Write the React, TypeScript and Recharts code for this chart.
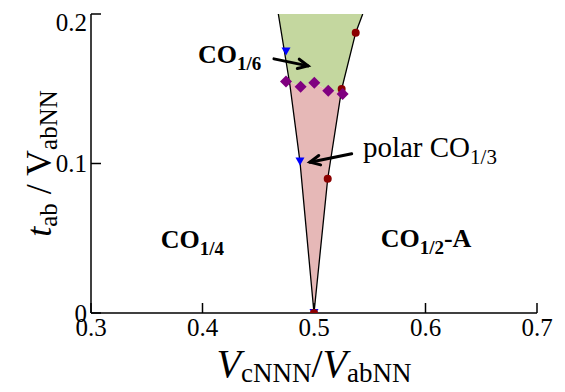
import {
  ComposedChart,
  XAxis,
  YAxis,
  Area,
  Line,
  Scatter,
  ReferenceDot,
  ReferenceLine,
  Label,
} from "recharts";

// phase boundaries (V_cNNN/V_abNN, t_ab/V_abNN)
const leftBoundary = [
  { x: 0.468, y: 0.2 },
  { x: 0.4785, y: 0.152 },
  { x: 0.4874, y: 0.1013 },
  { x: 0.5, y: 0 },
];
const rightBoundary = [
  { x: 0.5, y: 0 },
  { x: 0.5123, y: 0.0898 },
  { x: 0.5248, y: 0.1498 },
  { x: 0.5374, y: 0.1875 },
  { x: 0.5437, y: 0.2 },
];

// filled regions as [low, high] ranges
const co16Region = [
  { x: 0.468, r: [0.2, 0.2] },
  { x: 0.4778, r: [0.1549, 0.2] },
  { x: 0.488, r: [0.1513, 0.2] },
  { x: 0.5003, r: [0.154, 0.2] },
  { x: 0.5128, r: [0.1487, 0.2] },
  { x: 0.5245, r: [0.1475, 0.2] },
  { x: 0.5374, r: [0.1875, 0.2] },
  { x: 0.5437, r: [0.2, 0.2] },
];
const polarRegion = [
  { x: 0.4778, r: [0.1549, 0.1549] },
  { x: 0.4874, r: [0.1013, 0.1517] },
  { x: 0.5, r: [0, 0.154] },
  { x: 0.5123, r: [0.0898, 0.149] },
  { x: 0.5245, r: [0.1475, 0.1475] },
];

// markers
const blueTriangles = [
  { x: 0.4749, y: 0.1749 },
  { x: 0.4874, y: 0.1013 },
  { x: 0.5, y: 0 },
];
const redCircles = [
  { x: 0.5374, y: 0.1875 },
  { x: 0.5248, y: 0.1498 },
  { x: 0.5123, y: 0.0898 },
  { x: 0.5, y: 0 },
];
const purpleDiamonds = [
  { x: 0.4749, y: 0.1549 },
  { x: 0.488, y: 0.1513 },
  { x: 0.5003, y: 0.154 },
  { x: 0.5128, y: 0.1487 },
  { x: 0.5257, y: 0.1465 },
];

const xMajor = [0.3, 0.4, 0.5, 0.6, 0.7];
const xMinor = [0.35, 0.45, 0.55, 0.65];
const yMajor = [0, 0.1, 0.2];
const yMinor = [0.05, 0.15];

const FONT = "Liberation Serif";

const TriangleDown = (p: any) => (
  <polygon
    points={`${p.cx - 4.5},${p.cy - 4} ${p.cx + 4.5},${p.cy - 4} ${p.cx},${p.cy + 4}`}
    fill="#0000ff"
  />
);
const Dot = (p: any) => <circle cx={p.cx} cy={p.cy} r={4} fill="#8b0000" />;
const Diamond = (p: any) => (
  <polygon
    points={`${p.cx},${p.cy - 6} ${p.cx + 6},${p.cy} ${p.cx},${p.cy + 6} ${p.cx - 6},${p.cy}`}
    fill="#800080"
  />
);

const Arrow = (p: any) => {
  const { x1, y1, x2, y2 } = p;
  const a = Math.atan2(y2 - y1, x2 - x1);
  const h = 11;
  const s = 0.45;
  return (
    <g stroke="#000" strokeWidth={3} fill="none" strokeLinecap="round">
      <line x1={x1} y1={y1} x2={x2} y2={y2} />
      <polyline
        points={`${x2 - h * Math.cos(a - s)},${y2 - h * Math.sin(a - s)} ${x2},${y2} ${x2 - h * Math.cos(a + s)},${y2 - h * Math.sin(a + s)}`}
      />
    </g>
  );
};

const phaseText =
  (main: string, sub: string, tail: string, bold: boolean, size: number, subSize: number) => (p: any) => (
    <text x={p.cx} y={p.cy} fontFamily={FONT} fontSize={size} fontWeight={bold ? "bold" : "normal"} fill="#000">
      {main}
      <tspan fontSize={subSize} dy={7}>
        {sub}
      </tspan>
      {tail ? <tspan dy={-7}>{tail}</tspan> : null}
    </text>
  );

const App = () => {
  return (
    // chart is 8px taller than the box so the x label can use the bottom body margin
    <div style={{ height: 376 }}>
      <ComposedChart width={549} height={384} margin={{ top: 6, right: 20, bottom: 49, left: 23 }} style={{ fontFamily: FONT }}>
        <XAxis
          dataKey="x"
          type="number"
          domain={[0.3, 0.7]}
          ticks={xMajor}
          allowDataOverflow
          height={30}
          tickSize={-10}
          tickMargin={15}
          stroke="#000"
          strokeWidth={1.5}
          tick={{ fill: "#000", fontSize: 25, fontFamily: FONT }}
          tickFormatter={(v) => String(v)}
        >
          <Label
            content={(p: any) => (
              <text
                x={p.viewBox.x + p.viewBox.width / 2}
                y={p.viewBox.y + 64}
                textAnchor="middle"
                fontFamily={FONT}
                fontSize={40}
                fill="#000"
              >
                <tspan fontStyle="italic">V</tspan>
                <tspan fontSize={27} dy={5}>cNNN</tspan>
                <tspan dy={-5}>/</tspan>
                <tspan fontStyle="italic">V</tspan>
                <tspan fontSize={27} dy={5}>abNN</tspan>
              </text>
            )}
          />
        </XAxis>
        <XAxis xAxisId="minor" dataKey="x" type="number" domain={[0.3, 0.7]} ticks={xMinor} allowDataOverflow height={0} axisLine={false} tickSize={-5} stroke="#000" tickFormatter={() => ""} />
        <XAxis xAxisId="top" orientation="top" dataKey="x" type="number" domain={[0.3, 0.7]} ticks={xMajor} allowDataOverflow height={0} tickSize={-10} stroke="#000" strokeWidth={1.5} tickFormatter={() => ""} />
        <XAxis xAxisId="topMinor" orientation="top" dataKey="x" type="number" domain={[0.3, 0.7]} ticks={xMinor} allowDataOverflow height={0} axisLine={false} tickSize={-5} stroke="#000" tickFormatter={() => ""} />
        <YAxis
          dataKey="y"
          type="number"
          domain={[0, 0.2]}
          ticks={yMajor}
          allowDataOverflow
          width={60}
          tickSize={-10}
          tickMargin={14}
          stroke="#000"
          strokeWidth={1.5}
          tick={{ fill: "#000", fontSize: 25, fontFamily: FONT }}
          tickFormatter={(v) => String(v)}
        >
          <Label
            content={(p: any) => {
              const cx = p.viewBox.x + 20;
              const cy = p.viewBox.y + p.viewBox.height / 2;
              return (
                <text
                  x={cx}
                  y={cy}
                  transform={`rotate(-90 ${cx} ${cy})`}
                  textAnchor="middle"
                  fontFamily={FONT}
                  fontSize={36}
                  fill="#000"
                >
                  <tspan fontStyle="italic">t</tspan>
                  <tspan fontSize={25} dy={6}>ab</tspan>
                  <tspan dy={-6}> / </tspan>
                  <tspan>V</tspan>
                  <tspan fontSize={25} dy={6}>abNN</tspan>
                </text>
              );
            }}
          />
        </YAxis>
        <YAxis yAxisId="minor" dataKey="y" type="number" domain={[0, 0.2]} ticks={yMinor} allowDataOverflow width={0} axisLine={false} tickSize={-5} stroke="#000" tickFormatter={() => ""} />
        <YAxis yAxisId="right" orientation="right" dataKey="y" type="number" domain={[0, 0.2]} ticks={yMajor} allowDataOverflow width={0} tickSize={-10} stroke="#000" strokeWidth={1.5} tickFormatter={() => ""} />
        <YAxis yAxisId="rightMinor" orientation="right" dataKey="y" type="number" domain={[0, 0.2]} ticks={yMinor} allowDataOverflow width={0} axisLine={false} tickSize={-5} stroke="#000" tickFormatter={() => ""} />

        <Area data={co16Region} dataKey="r" type="linear" fill="#c4d79f" fillOpacity={1} stroke="none" isAnimationActive={false} />
        <Area data={polarRegion} dataKey="r" type="linear" fill="#e6b8b7" fillOpacity={1} stroke="none" isAnimationActive={false} />
        <Line data={leftBoundary} dataKey="y" type="linear" stroke="#000" strokeWidth={1.3} dot={false} isAnimationActive={false} />
        <Line data={rightBoundary} dataKey="y" type="linear" stroke="#000" strokeWidth={1.3} dot={false} isAnimationActive={false} />

        <Scatter data={blueTriangles} shape={TriangleDown} isAnimationActive={false} />
        <Scatter data={redCircles} shape={Dot} isAnimationActive={false} />
        <Scatter data={purpleDiamonds} shape={Diamond} isAnimationActive={false} />

        <ReferenceLine segment={[{ x: 0.4641, y: 0.17 }, { x: 0.4946, y: 0.1653 }]} shape={Arrow} />
        <ReferenceLine segment={[{ x: 0.5338, y: 0.1065 }, { x: 0.4964, y: 0.1009 }]} shape={Arrow} />

        <ReferenceDot x={0.396} y={0.1675} r={0} shape={phaseText("CO", "1/6", "", true, 26, 19)} />
        <ReferenceDot x={0.5439} y={0.1042} r={0} shape={phaseText("polar CO", "1/3", "", false, 29, 21)} />
        <ReferenceDot x={0.3625} y={0.0433} r={0} shape={phaseText("CO", "1/4", "", true, 26, 19)} />
        <ReferenceDot x={0.5598} y={0.0442} r={0} shape={phaseText("CO", "1/2", "-A", true, 26, 19)} />
      </ComposedChart>
    </div>
  );
};

export default App;
